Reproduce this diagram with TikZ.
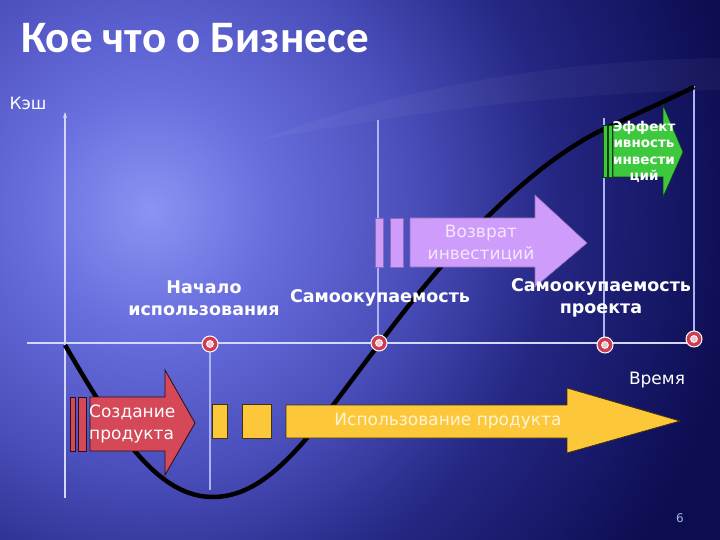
\documentclass[tikz,border=0pt]{standalone}
\usepackage{fontspec}
\setmainfont{DejaVu Sans}
\newfontfamily\titlefont{Carlito}
\usetikzlibrary{arrows.meta,positioning}
\definecolor{DeepNavy}{RGB}{12,12,80}
\definecolor{GlowA}{RGB}{138,148,242}
\definecolor{GlowB}{RGB}{104,110,222}
\definecolor{GlowC}{RGB}{74,78,186}
\definecolor{GlowD}{RGB}{36,38,130}
\definecolor{AxisLine}{RGB}{210,216,255}
\definecolor{GuideLine}{RGB}{170,180,245}
\definecolor{MarkRed}{RGB}{205,62,82}
\definecolor{BuildRed}{RGB}{212,72,88}
\definecolor{UseGold}{RGB}{252,200,58}
\definecolor{ReturnLilac}{RGB}{206,156,250}
\definecolor{YieldGreen}{RGB}{62,200,62}
\definecolor{Cream}{RGB}{255,244,214}
\definecolor{LilacText}{RGB}{244,232,255}
\definecolor{PageNum}{RGB}{170,180,225}
\pgfdeclareradialshading{bgglow}{\pgfpoint{0bp}{0bp}}{%
  color(0bp)=(GlowA); color(5bp)=(GlowB); color(11bp)=(GlowC);
  color(17bp)=(GlowD); color(25bp)=(DeepNavy); color(50bp)=(DeepNavy)}

\begin{document}
\begin{tikzpicture}[
      x=1pt,y=-1pt,
      axisline/.style={AxisLine,line width=1.2pt},
      guideline/.style={GuideLine,line width=1.1pt},
      cashcurve/.style={black,line width=4.5pt},
      marker/.style={circle,fill=MarkRed,draw=white,line width=1pt,
                     minimum size=16pt,inner sep=0pt,
                     path picture={\draw[white,line width=0.9pt,fill=MarkRed!30!white]
                       (path picture bounding box.center) circle (3.4pt);}},
      buildshape/.style={fill=BuildRed,draw=black!80!BuildRed,line width=0.8pt},
      useshape/.style={fill=UseGold,draw=black!75!UseGold,line width=0.8pt},
      returnshape/.style={fill=ReturnLilac,draw=ReturnLilac!70!black,line width=0.6pt},
      yieldshape/.style={fill=YieldGreen,draw=black!70!YieldGreen,line width=0.6pt},
      phaselabel/.style={text=white,align=center,inner sep=0pt,
                         font=\fontsize{17}{22}\selectfont},
      yieldlabel/.style={text=white,align=center,inner sep=0pt,
                         font=\fontsize{13.5}{16.5}\selectfont\bfseries},
      milestone/.style={text=white,align=center,inner sep=0pt,
                        font=\fontsize{17.5}{22}\selectfont\bfseries},
      axislabel/.style={text=white,inner sep=0pt,font=\fontsize{17}{20}\selectfont},
      titletext/.style={text=white,inner sep=0pt,font=\titlefont\fontsize{45}{50}\selectfont\bfseries},
      pagenum/.style={text=PageNum,inner sep=0pt,font=\fontsize{12}{14}\selectfont}
    ]

    % Background: dark navy with a soft glow on the left
    \useasboundingbox (0,0) rectangle (720,540);
    \begin{scope}
      \clip (0,0) rectangle (720,540);
      \fill[DeepNavy] (0,0) rectangle (720,540);
      \shade[shading=bgglow] (150,210) circle (600pt);
      \fill[white,opacity=0.04] (260,140) .. controls (420,80) and (580,60) .. (720,58)
        -- (720,90) .. controls (580,92) and (420,110) .. (260,140) -- cycle;
    \end{scope}

    % Title
    \node(title)[titletext,anchor=west] at (21,38) {Кое что о Бизнесе};

    % Axes and guide lines
    \draw[axisline,-{Stealth[length=6pt,width=4pt]}] (65,498) -- (65,112);
    \draw[axisline] (27,343) -- (694,343);
    \draw[guideline] (210,343) -- (210,490);
    \draw[guideline] (378,120) -- (378,343);
    \draw[guideline] (604,118) -- (604,345);
    \draw[guideline] (694,86) -- (694,339);

    % Cash curve
    \draw[cashcurve] (65,345) .. controls (120,440) and (160,497) .. (213,497)
      .. controls (275,497) and (320,420) .. (380,343)
      .. controls (440,262) and (520,172) .. (598,132)
      .. controls (640,112) and (670,99) .. (694,87);

    % Phase 1: product creation
    \draw[buildshape] (70,397) rectangle (75,451);
    \draw[buildshape] (78,397) rectangle (86,451);
    \draw[buildshape] (90,397) -- (165,397) -- (165,370) -- (195,423)
      -- (165,475) -- (165,451) -- (90,451) -- cycle;
    \node(buildtxt)[phaselabel,anchor=west,align=left] at (89,424) {Создание\\продукта};

    % Phase 2: product use
    \draw[useshape] (212,404) rectangle (227,438);
    \draw[useshape] (242,404) rectangle (271,438);
    \draw[useshape] (286,405) -- (567,405) -- (567,388) -- (680,421)
      -- (567,453) -- (567,438) -- (286,438) -- cycle;
    \node(usetxt)[phaselabel,text=Cream] at (448,421) {Использование продукта};

    % Phase 3: return of investment
    \draw[returnshape] (375,218) rectangle (383,267);
    \draw[returnshape] (390,218) rectangle (403,267);
    \draw[returnshape] (410,218) -- (535,218) -- (535,195) -- (587,243)
      -- (535,287) -- (535,267) -- (410,267) -- cycle;
    \node(returntxt)[phaselabel,text=LilacText] at (481,243) {Возврат\\инвестиций};

    % Phase 4: investment efficiency
    \draw[yieldshape] (603,125) rectangle (607,177);
    \draw[yieldshape] (608,125) rectangle (612,177);
    \draw[yieldshape] (613,125) -- (663,125) -- (663,105) -- (683,152)
      -- (663,197) -- (663,177) -- (613,177) -- cycle;
    \node(yieldtxt)[yieldlabel] at (644,152) {Эффект\\ивность\\инвести\\ций};

    % Milestones on the time axis
    \node(mstart)[marker] at (210,344) {};
    \node(mpay)[marker] at (379,343) {};
    \node(mproj)[marker] at (605,345) {};
    \node(mend)[marker] at (694,339) {};
    \node(startlbl)[milestone] at (204,298) {Начало\\использования};
    \node(paylbl)[milestone] at (380,298) {Самоокупаемость};
    \node(projlbl)[milestone] at (601,298) {Самоокупаемость\\проекта};

    % Axis captions and page number
    \node(cashlbl)[axislabel] at (28,103) {Кэш};
    \node(timelbl)[axislabel] at (657,380) {Время};
    \node(pgnum)[pagenum] at (680,518) {6};
  \end{tikzpicture}
\end{document}
